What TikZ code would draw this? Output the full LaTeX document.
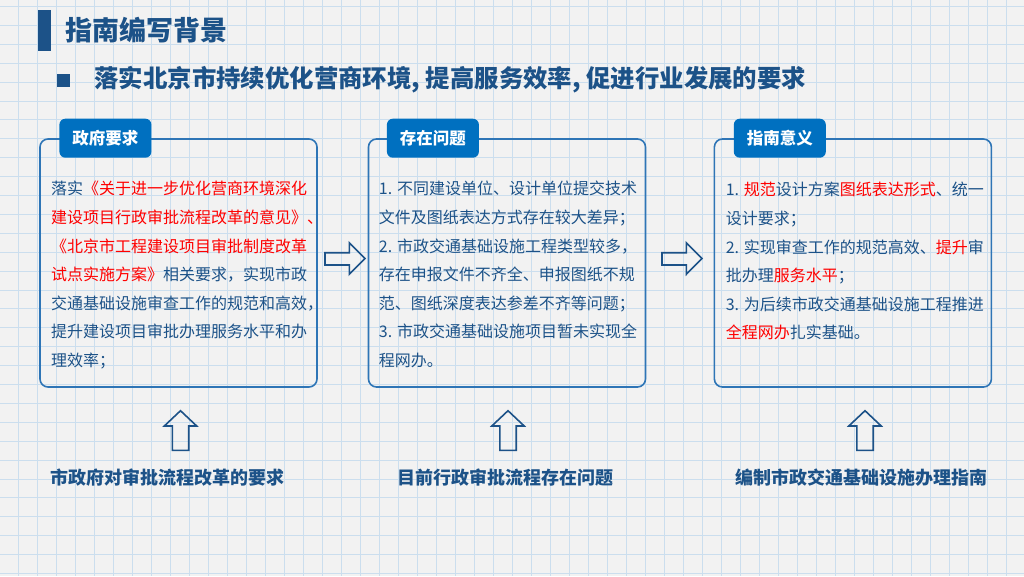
\documentclass[tikz,border=0pt]{standalone}
\usepackage{fontspec}
\setmainfont{Noto Sans CJK SC}
\usetikzlibrary{positioning}

\definecolor{bgcol}{RGB}{242,242,242}
\definecolor{gridcol}{RGB}{203,222,238}
\definecolor{navy}{RGB}{28,82,136}
\definecolor{boxblue}{RGB}{46,117,182}
\definecolor{tabblue}{RGB}{0,112,192}
\definecolor{hired}{RGB}{255,0,0}
\newcommand{\redtxt}[1]{\textcolor{hired}{#1}}

\tikzset{
  gridline/.style={gridcol, line width=0.8pt},
  infobox/.style={draw=boxblue, line width=1.6pt, rounded corners=8pt, minimum width=277pt, minimum height=248pt, inner sep=0pt},
  tabbox/.style={fill=tabblue, rounded corners=6pt, minimum width=92pt, minimum height=39pt, inner sep=0pt, text=white, font=\fontsize{16.5}{20}\selectfont\bfseries},
  boxtext/.style={anchor=north west, align=left, inner sep=0pt, text=navy, font=\fontsize{16}{28.6}\selectfont},
  blockarrow/.style={draw=navy, line width=1.6pt, line join=miter},
  footlabel/.style={text=navy, font=\fontsize{18}{22}\selectfont\bfseries}
}

\begin{document}
\begin{tikzpicture}[x=1pt,y=-1pt]
\useasboundingbox (0,0) rectangle (1024,576);
\fill [bgcol] (0,0) rectangle (1024,576);
% grid paper
\foreach \i in {0,...,53}
  \draw [gridline] ({18.3+19*\i},0) -- ({18.3+19*\i},576);
\foreach \j in {0,...,30}
  \draw [gridline] (0,{6.4+18.9*\j}) -- (1024,{6.4+18.9*\j});

% heading
\fill [navy] (38.3,10) rectangle (50.7,51);
\node [anchor=west, text=navy, font=\fontsize{27}{30}\selectfont\bfseries] (title) at (62,30) {指南编写背景};
\fill [navy] (56.7,74) rectangle (70,86.7);
\node [anchor=west, text=navy, font=\fontsize{24.4}{28}\selectfont\bfseries] (subtitle) at (91,80) {落实北京市持续优化营商环境, 提高服务效率, 促进行业发展的要求};

% three boxes
\node [infobox] (gov) at (178.5,263) {};
\node [infobox] (prob) at (507,263) {};
\node [infobox] (mean) at (852.9,263) {};
\node [tabbox, anchor=west] (govtab) at ([xshift=20pt]gov.north west) {政府要求};
\node [tabbox, anchor=west] (probtab) at ([xshift=19pt]prob.north west) {存在问题};
\node [tabbox, anchor=west] (meantab) at ([xshift=20pt]mean.north west) {指南意义};

\node [boxtext] (govtext) at ([xshift=11.7pt,yshift=-43pt]gov.north west) {落实\redtxt{《关于进一步优化营商环境深化}\\
\redtxt{建设项目行政审批流程改革的意见》、}\\
\redtxt{《北京市工程建设项目审批制度改革}\\
\redtxt{试点实施方案》}相关要求，实现市政\\
交通基础设施审查工作的规范和高效，\\
提升建设项目审批办理服务水平和办\\
理效率；};
\node [boxtext] (probtext) at ([xshift=11pt,yshift=-43pt]prob.north west) {1. 不同建设单位、设计单位提交技术\\
文件及图纸表达方式存在较大差异；\\
2. 市政交通基础设施工程类型较多，\\
存在申报文件不齐全、申报图纸不规\\
范、图纸深度表达参差不齐等问题；\\
3. 市政交通基础设施项目暂未实现全\\
程网办。};
\node [boxtext] (meantext) at ([xshift=12pt,yshift=-44pt]mean.north west) {1. \redtxt{规范}设计方案\redtxt{图纸表达形式}、统一\\
设计要求；\\
2. 实现审查工作的规范高效、\redtxt{提升}审\\
批办理\redtxt{服务水平}；\\
3. 为后续市政交通基础设施工程推进\\
\redtxt{全程网办}扎实基础。};

% right arrows between boxes
\foreach \x in {325,662}
  \draw [blockarrow] (\x,252.7) -- ++(24.3,0) -- ++(0,-10) -- ++(15.7,15.8) -- ++(-15.7,15.8) -- ++(0,-9.3) -- ++(-24.3,0) -- cycle;

% up arrows and labels
\foreach \cx in {180.5,508,865}
  \draw [blockarrow] ({\cx-8.2},450.3) -- ({\cx-8.2},426) -- ({\cx-16.2},426) -- (\cx,410.7) -- ({\cx+16.2},426) -- ({\cx+8.2},426) -- ({\cx+8.2},450.3) -- cycle;
\node [footlabel] (govlabel) at (167,477.7) {市政府对审批流程改革的要求};
\node [footlabel] (problabel) at (505,477.7) {目前行政审批流程存在问题};
\node [footlabel] (meanlabel) at (861.7,477.7) {编制市政交通基础设施办理指南};
\end{tikzpicture}
\end{document}
